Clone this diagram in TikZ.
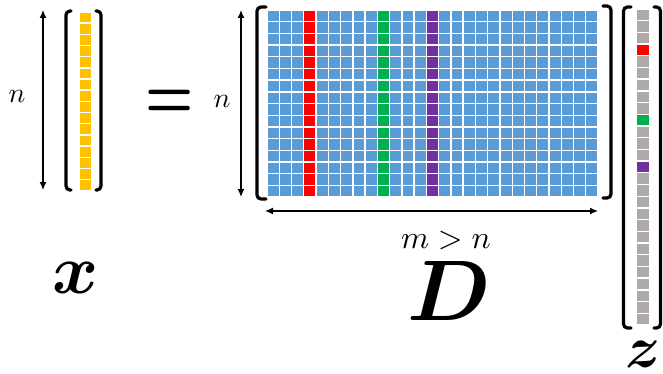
\documentclass[tikz,border=0pt]{standalone}
\usepackage{amsmath,bm}
\usepackage{fontspec}
\usetikzlibrary{arrows.meta}
\definecolor{cblue}{HTML}{5B9BD5}
\definecolor{cred}{HTML}{FF0000}
\definecolor{cgreen}{HTML}{00B050}
\definecolor{cpurple}{HTML}{7030A0}
\definecolor{cyellow}{HTML}{FFC000}
\definecolor{cgray}{HTML}{AEAAAA}
\begin{document}
\begin{tikzpicture}[x=1pt,y=-1pt,
  brk/.style={line width=3.2pt, rounded corners=4pt, line cap=round},
  dimarrow/.style={line width=1.3pt, {Latex[length=8pt,width=7pt]}-{Latex[length=8pt,width=7pt]}},
  lbl/.style={inner sep=0pt, outer sep=0pt}]
\useasboundingbox (0,0) rectangle (663,374);
% x vector cells
\foreach \r in {0,...,15}{
  \fill[cyellow] (79.7,{12+\r*11.17+0.7}) rectangle (90.6,{12+(\r+1)*11.17-0.7});
}
% D matrix cells
\foreach \c in {0,...,26}{
  \def\cc{cblue}
  \ifnum\c=3 \def\cc{cred}\fi
  \ifnum\c=9 \def\cc{cgreen}\fi
  \ifnum\c=13 \def\cc{cpurple}\fi
  \foreach \r in {0,...,15}{
    \fill[\cc] ({267+\c*12.26+0.7},{10+\r*11.69+0.7}) rectangle ({267+(\c+1)*12.26-0.7},{10+(\r+1)*11.69-0.7});
  }
}
% z vector cells
\foreach \r in {0,...,26}{
  \def\cc{cgray}
  \ifnum\r=3 \def\cc{cred}\fi
  \ifnum\r=9 \def\cc{cgreen}\fi
  \ifnum\r=13 \def\cc{cpurple}\fi
  \fill[\cc] (637.2,{9+\r*11.7+0.7}) rectangle (648.6,{9+(\r+1)*11.7-0.7});
}
% brackets
\draw[brk] (71,11) -- (66,11) -- (66,190) -- (71,190);
\draw[brk] (96,11) -- (101,11) -- (101,190) -- (96,190);
\draw[brk] (266,7) -- (257,7) -- (257,199) -- (266,199);
\draw[brk] (603,6) -- (611,6) -- (611,198) -- (603,198);
\draw[brk] (631,7) -- (623.5,7) -- (623.5,328) -- (631,328);
\draw[brk] (654,7) -- (660.5,7) -- (660.5,328) -- (654,328);
% dimension arrows
\coordinate (xa1) at (43,10);
\coordinate (xa2) at (43,190);
\coordinate (da1) at (241,10);
\coordinate (da2) at (241,197);
\coordinate (dh1) at (265,211);
\coordinate (dh2) at (598,211);
\draw[dimarrow] (xa1) -- (xa2);
\draw[dimarrow] (da1) -- (da2);
\draw[dimarrow] (dh1) -- (dh2);
% labels
\node[lbl, scale=2.8] (nx) at (17,96) {$n$};
\node[lbl, scale=2.8] (nd) at (222,101) {$n$};
\node[lbl, scale=3.2] (mn) at (446,240) {$m>n$};
\node[lbl, xscale=5.4, yscale=7.2] (eq) at (169.5,104.5) {$\bm{=}$};
\node[lbl, scale=7] (xl) at (76,278) {$\bm{x}$};
\node[lbl, scale=8.6] (dl) at (449.5,291) {$\bm{D}$};
\node[lbl, scale=5.9] (zl) at (643,354) {$\bm{z}$};
\end{tikzpicture}
\end{document}
